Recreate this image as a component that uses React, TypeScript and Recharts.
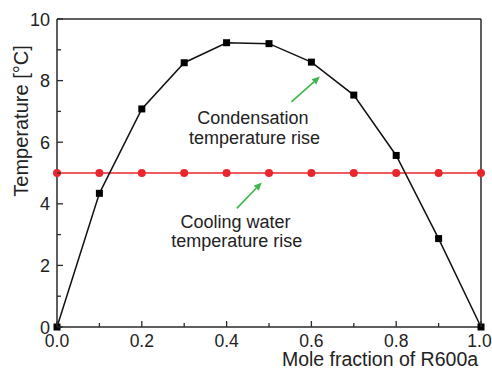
import React from 'react';
import { ComposedChart, Line, XAxis, YAxis, ReferenceLine, ReferenceDot } from 'recharts';

const moleFraction = [0, 0.1, 0.2, 0.3, 0.4, 0.5, 0.6, 0.7, 0.8, 0.9, 1.0];
const condensationRise = [0, 4.34, 7.08, 8.58, 9.23, 9.2, 8.6, 7.53, 5.57, 2.87, 0];
const coolingWaterRise = [5, 5, 5, 5, 5, 5, 5, 5, 5, 5, 5];
const xTicks = [0, 0.1, 0.2, 0.3, 0.4, 0.5, 0.6, 0.7, 0.8, 0.9, 1.0];
const yTicks = [0, 1, 2, 3, 4, 5, 6, 7, 8, 9, 10];

const data = moleFraction.map((x, i) => ({ x, cond: condensationRise[i], cool: coolingWaterRise[i] }));

const FONT = '"Liberation Sans", Arial, sans-serif';
const AX = '#2a2a2a';
const GREEN = '#3db54a';
const RED = '#e8262b';

const XTick = (p: any) => {
  const v = p.payload.value;
  const major = Math.round(v * 10) % 2 === 0;
  return (
    <g>
      <line x1={p.x} x2={p.x} y1={p.y} y2={p.y - (major ? 6 : 4)} stroke={AX} strokeWidth={1.3} />
      {major && (
        <text x={v === 1 ? p.x - 1.5 : p.x} y={p.y + 20} textAnchor="middle" fontSize={17.5} fill="#222" fontFamily={FONT}>
          {v.toFixed(1)}
        </text>
      )}
    </g>
  );
};

const YTick = (p: any) => {
  const v = p.payload.value;
  const major = v % 2 === 0;
  return (
    <g>
      <line x1={p.x} x2={p.x + (major ? 6 : 4)} y1={p.y} y2={p.y} stroke={AX} strokeWidth={1.3} />
      {major && (
        <text x={p.x - 7} y={p.y + 6.5} textAnchor="end" fontSize={18} fill="#222" fontFamily={FONT}>
          {v}
        </text>
      )}
    </g>
  );
};

const Square = (p: any) => (
  <rect key={`sq-${p.index}`} x={p.cx - 3.5} y={p.cy - 3.5} width={7} height={7} fill="#000" />
);

const Circle = (p: any) => (
  <circle key={`ci-${p.index}`} cx={p.cx} cy={p.cy} r={4} fill={RED} />
);

const Arrow = (p: any) => {
  const { x1, y1, x2, y2 } = p;
  const ang = Math.atan2(y2 - y1, x2 - x1);
  const L = 8, W = 3.5;
  const bx = x2 - L * Math.cos(ang), by = y2 - L * Math.sin(ang);
  const px = -Math.sin(ang) * W, py = Math.cos(ang) * W;
  return (
    <g>
      <line x1={x1} y1={y1} x2={bx} y2={by} stroke={GREEN} strokeWidth={1.6} />
      <polygon points={`${x2},${y2} ${bx + px},${by + py} ${bx - px},${by - py}`} fill={GREEN} />
    </g>
  );
};

const Label = (text: string) => (p: any) => (
  <text x={p.cx} y={p.cy + 6.5} textAnchor="middle" fontSize={18} fill="#222" fontFamily={FONT}>
    {text}
  </text>
);

export default function App() {
  return (
    <div style={{ position: 'absolute', left: 0, top: 0, width: 492, height: 369, background: '#fff' }}>
      <ComposedChart width={492} height={369} data={data} margin={{ top: 19, right: 11, left: 0, bottom: 0 }}>
        <XAxis
          type="number"
          dataKey="x"
          domain={[0, 1]}
          ticks={xTicks}
          interval={0}
          tickSize={0}
          tickMargin={0}
          tickLine={false}
          tick={<XTick />}
          height={42}
          axisLine={{ stroke: AX, strokeWidth: 1.5 }}
        />
        <YAxis
          type="number"
          domain={[0, 10]}
          ticks={yTicks}
          interval={0}
          tickSize={0}
          tickMargin={0}
          tickLine={false}
          tick={<YTick />}
          width={57}
          axisLine={{ stroke: AX, strokeWidth: 1.5 }}
        />
        <ReferenceLine y={10} stroke={AX} strokeWidth={1.5} />
        <ReferenceLine x={1} stroke={AX} strokeWidth={1.5} />
        <Line type="linear" dataKey="cool" stroke={RED} strokeWidth={1.6} dot={Circle} activeDot={false} isAnimationActive={false} />
        <Line type="linear" dataKey="cond" stroke="#111" strokeWidth={1.5} dot={Square} activeDot={false} isAnimationActive={false} />
        <ReferenceLine segment={[{ x: 0.553, y: 7.31 }, { x: 0.62, y: 8.13 }]} shape={Arrow} ifOverflow="visible" />
        <ReferenceLine segment={[{ x: 0.424, y: 3.85 }, { x: 0.483, y: 4.69 }]} shape={Arrow} ifOverflow="visible" />
        <ReferenceDot x={0.462} y={6.8} r={0} shape={Label('Condensation')} ifOverflow="visible" />
        <ReferenceDot x={0.466} y={6.16} r={0} shape={Label('temperature rise')} ifOverflow="visible" />
        <ReferenceDot x={0.421} y={3.42} r={0} shape={Label('Cooling water')} ifOverflow="visible" />
        <ReferenceDot x={0.424} y={2.81} r={0} shape={Label('temperature rise')} ifOverflow="visible" />
        <text x={380} y={365.5} textAnchor="middle" fontSize={19.5} fill="#222" fontFamily={FONT}>
          Mole fraction of R600a
        </text>
        <text
          x={28}
          y={121}
          transform="rotate(-90 28 121)"
          textAnchor="middle"
          fontSize={20}
          fill="#222"
          fontFamily={FONT}
        >
          Temperature [°C]
        </text>
      </ComposedChart>
    </div>
  );
}
